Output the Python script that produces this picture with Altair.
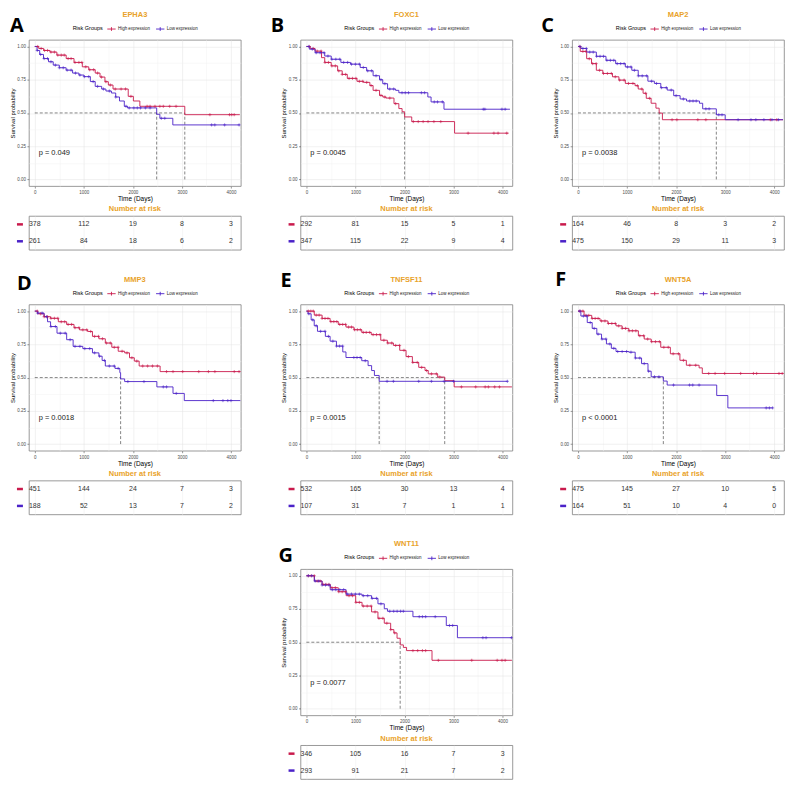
import bisect
import altair as alt
import pandas as pd

RED = "#C91A4C"
BLUE = "#4B22C8"
ORANGE = "#E9A229"
GROUPS = ["High expression", "Low expression"]
RISK_TIMES = [0, 1000, 2000, 3000, 4000]
X_TICKS = [0, 500, 1000, 1500, 2000, 2500, 3000, 3500, 4000]
Y_TICKS = [0, 0.125, 0.25, 0.375, 0.5, 0.625, 0.75, 0.875, 1.0]

# ---------------- A: EPHA3 ----------------
A_HIGH_T = [0, 80, 180, 310, 450, 640, 800, 969, 1100, 1232, 1330, 1430, 1500, 1595, 1905, 2010, 2142, 3058, 4180]
A_HIGH_S = [1.0, 0.985, 0.97, 0.958, 0.935, 0.909, 0.88, 0.847, 0.825, 0.80, 0.77, 0.735, 0.71, 0.68, 0.625, 0.59, 0.55, 0.487, 0.487]
A_HIGH_C = [60, 130, 200, 260, 330, 400, 470, 540, 600, 680, 740, 820, 900, 960, 1040, 1120, 1200, 1280, 1360, 1450, 1540, 1640, 1760, 1850, 1960, 2290, 2350, 2450, 2550, 2620, 2750, 2880, 3570, 3970, 4015, 4065]
A_LOW_T = [0, 46, 100, 178, 280, 376, 500, 639, 771, 900, 1002, 1133, 1232, 1364, 1450, 1562, 1650, 1727, 1825, 1891, 2485, 2550, 2814, 4180]
A_LOW_S = [1.0, 0.97, 0.94, 0.909, 0.885, 0.86, 0.84, 0.822, 0.80, 0.785, 0.773, 0.736, 0.70, 0.68, 0.665, 0.65, 0.62, 0.59, 0.55, 0.538, 0.49, 0.46, 0.41, 0.41]
A_LOW_C = [50, 120, 190, 260, 330, 420, 500, 580, 660, 740, 830, 920, 1010, 1100, 1190, 1280, 1400, 1520, 1650, 1860, 1925, 2020, 2090, 2155, 2255, 2350, 2580, 2650, 3605, 3670, 3870, 4165]
A_RISK_HIGH = [378, 112, 19, 8, 3]
A_RISK_LOW = [261, 84, 18, 6, 2]
A_MED = [2485, 3058]

# ---------------- B: FOXC1 ----------------
B_HIGH_T = [0, 80, 177, 309, 374, 506, 637, 730, 834, 1031, 1163, 1294, 1360, 1491, 1557, 1622, 1786, 1885, 1951, 2003, 2148, 3021, 4120]
B_HIGH_S = [1.0, 0.985, 0.965, 0.916, 0.88, 0.854, 0.817, 0.79, 0.76, 0.738, 0.73, 0.706, 0.67, 0.632, 0.62, 0.612, 0.57, 0.533, 0.509, 0.47, 0.435, 0.348, 0.348]
B_HIGH_C = [60, 140, 220, 300, 380, 450, 520, 590, 660, 730, 800, 870, 940, 1010, 1080, 1150, 1230, 1320, 1420, 1520, 1600, 1700, 1820, 2180, 2280, 2380, 2480, 2600, 2740, 3297, 3823, 3908, 4085]
B_LOW_T = [0, 60, 177, 374, 506, 703, 900, 1097, 1228, 1360, 1491, 1557, 1655, 1819, 1885, 2476, 2542, 2805, 4150]
B_LOW_S = [1.0, 0.98, 0.953, 0.928, 0.904, 0.88, 0.867, 0.842, 0.817, 0.78, 0.75, 0.72, 0.68, 0.67, 0.652, 0.62, 0.583, 0.528, 0.528]
B_LOW_C = [50, 120, 200, 280, 360, 440, 520, 600, 680, 760, 840, 920, 1000, 1080, 1160, 1250, 1330, 1420, 1520, 1600, 1700, 1780, 1950, 2016, 2082, 2345, 2410, 2607, 2673, 2772, 3606, 3639, 3987, 4052]
B_RISK_HIGH = [292, 81, 15, 5, 1]
B_RISK_LOW = [347, 115, 22, 9, 4]
B_MED = [2003]

# ---------------- C: MAP2 ----------------
C_HIGH_T = [0, 46, 177, 276, 374, 506, 703, 834, 965, 1163, 1228, 1327, 1392, 1491, 1589, 1655, 1721, 4180]
C_HIGH_S = [1.0, 0.963, 0.908, 0.871, 0.821, 0.797, 0.772, 0.747, 0.722, 0.705, 0.68, 0.648, 0.61, 0.573, 0.536, 0.499, 0.449, 0.449]
C_HIGH_C = [40, 100, 160, 230, 300, 370, 440, 520, 600, 680, 760, 850, 940, 1030, 1120, 1210, 1300, 1380, 1460, 1918, 2016, 2443, 2607, 3921, 4052]
C_LOW_T = [0, 60, 177, 374, 571, 768, 965, 1097, 1228, 1425, 1557, 1688, 1819, 1951, 2082, 2213, 2476, 2542, 2820, 3001, 4180]
C_LOW_S = [1.0, 0.985, 0.958, 0.926, 0.896, 0.871, 0.846, 0.821, 0.779, 0.739, 0.722, 0.69, 0.672, 0.63, 0.605, 0.59, 0.573, 0.531, 0.486, 0.449, 0.449]
C_LOW_C = [40, 100, 170, 240, 310, 380, 450, 520, 590, 660, 730, 800, 870, 940, 1010, 1080, 1150, 1230, 1310, 1400, 1500, 1600, 1700, 1800, 1900, 2000, 2148, 2279, 2345, 2410, 2607, 2673, 2870, 2936, 3264, 3527, 3626, 3790, 3954, 4085]
C_RISK_HIGH = [164, 46, 8, 3, 2]
C_RISK_LOW = [475, 150, 29, 11, 3]
C_MED = [1655, 2820]

# ---------------- D: MMP3 ----------------
D_HIGH_T = [0, 60, 190, 322, 480, 650, 800, 913, 1077, 1176, 1307, 1438, 1570, 1701, 1832, 1931, 2029, 2128, 2555, 4190]
D_HIGH_S = [1.0, 0.98, 0.958, 0.946, 0.92, 0.90, 0.875, 0.859, 0.847, 0.81, 0.792, 0.76, 0.728, 0.698, 0.686, 0.649, 0.624, 0.587, 0.545, 0.545]
D_HIGH_C = [50, 120, 190, 260, 330, 400, 470, 540, 610, 680, 750, 820, 900, 980, 1060, 1140, 1220, 1300, 1380, 1460, 1540, 1620, 1700, 1780, 1880, 1980, 2080, 2200, 2300, 2400, 2500, 2686, 2818, 3015, 3343, 3540, 3672, 4066, 4164]
D_LOW_T = [0, 60, 190, 260, 322, 453, 650, 782, 979, 1176, 1307, 1373, 1438, 1635, 1734, 1750, 1832, 2489, 2818, 3048, 4190]
D_LOW_S = [1.0, 0.985, 0.958, 0.92, 0.884, 0.834, 0.785, 0.735, 0.718, 0.686, 0.661, 0.629, 0.587, 0.569, 0.537, 0.49, 0.47, 0.43, 0.381, 0.327, 0.327]
D_LOW_C = [60, 150, 240, 330, 420, 520, 620, 720, 820, 920, 1020, 1120, 1220, 1320, 1420, 1520, 1620, 1700, 1898, 2226, 2620, 2686, 2884, 3639, 3836, 3935, 4000]
D_RISK_HIGH = [451, 144, 24, 7, 3]
D_RISK_LOW = [188, 52, 13, 7, 2]
D_MED = [1750]

# ---------------- E: TNFSF11 ----------------
E_HIGH_T = [0, 161, 320, 484, 650, 807, 970, 1129, 1323, 1516, 1650, 1774, 1903, 2032, 2161, 2290, 2419, 2484, 2677, 2820, 3013, 4190]
E_HIGH_S = [1.0, 0.97, 0.945, 0.921, 0.9, 0.88, 0.86, 0.84, 0.823, 0.781, 0.76, 0.742, 0.705, 0.658, 0.614, 0.577, 0.553, 0.528, 0.504, 0.477, 0.43, 0.43]
E_HIGH_C = [40, 90, 140, 200, 260, 320, 380, 440, 500, 560, 620, 680, 740, 800, 860, 920, 980, 1040, 1100, 1160, 1220, 1290, 1360, 1430, 1500, 1580, 1660, 1740, 1820, 1900, 1990, 2080, 2170, 2260, 2350, 2450, 2550, 2650, 2720, 3161, 3452, 3645, 3710, 3839, 3936]
E_LOW_T = [0, 32, 97, 160, 226, 387, 484, 613, 742, 807, 1129, 1258, 1330, 1387, 1484, 4100]
E_LOW_S = [1.0, 0.98, 0.934, 0.89, 0.848, 0.81, 0.774, 0.737, 0.693, 0.651, 0.627, 0.59, 0.553, 0.516, 0.472, 0.472]
E_LOW_C = [50, 130, 200, 290, 380, 450, 540, 613, 677, 740, 968, 1032, 1097, 1200, 1645, 1774, 2290, 2549, 2807, 3000, 4097]
E_RISK_HIGH = [532, 165, 30, 13, 4]
E_RISK_LOW = [107, 31, 7, 1, 1]
E_MED = [1484, 2820]

# ---------------- F: WNT5A ----------------
F_HIGH_T = [0, 124, 280, 450, 610, 775, 900, 1036, 1231, 1350, 1492, 1687, 1883, 2078, 2209, 2469, 2534, 4190]
F_HIGH_S = [1.0, 0.968, 0.945, 0.926, 0.907, 0.889, 0.87, 0.852, 0.815, 0.79, 0.77, 0.728, 0.679, 0.63, 0.593, 0.573, 0.531, 0.531]
F_HIGH_C = [40, 100, 160, 220, 290, 350, 410, 480, 550, 620, 690, 760, 830, 900, 970, 1040, 1110, 1180, 1260, 1340, 1420, 1500, 1580, 1660, 1750, 1840, 1940, 2050, 2150, 2280, 2400, 2665, 2795, 2990, 3316, 3577, 3642, 4098, 4163]
F_LOW_T = [0, 59, 189, 290, 384, 480, 580, 680, 775, 1036, 1166, 1296, 1427, 1492, 1740, 1818, 2828, 3055, 3970]
F_LOW_S = [1.0, 0.963, 0.914, 0.87, 0.827, 0.79, 0.753, 0.72, 0.696, 0.691, 0.647, 0.605, 0.548, 0.506, 0.474, 0.444, 0.365, 0.272, 0.272]
F_LOW_C = [40, 110, 180, 250, 330, 410, 490, 570, 650, 730, 810, 900, 990, 1080, 1170, 1260, 1350, 1440, 1560, 1650, 1948, 2274, 2339, 2469, 3837, 3902, 3968]
F_RISK_HIGH = [475, 145, 27, 10, 5]
F_RISK_LOW = [164, 51, 10, 4, 0]
F_MED = [1740]

# ---------------- G: WNT11 ----------------
G_HIGH_T = [0, 162, 320, 486, 650, 810, 1005, 1135, 1329, 1459, 1588, 1718, 1783, 1848, 1912, 1977, 2042, 2561, 4190]
G_HIGH_S = [1.0, 0.96, 0.935, 0.91, 0.88, 0.85, 0.80, 0.772, 0.728, 0.68, 0.643, 0.595, 0.57, 0.53, 0.48, 0.461, 0.437, 0.364, 0.364]
G_HIGH_C = [40, 100, 160, 220, 280, 340, 400, 460, 520, 590, 660, 730, 800, 870, 940, 1010, 1080, 1160, 1240, 1320, 1400, 1480, 1560, 1640, 1720, 1800, 2172, 2269, 2366, 2431, 2690, 3371, 3890, 3987, 4052]
G_LOW_T = [0, 162, 320, 486, 810, 1135, 1329, 1459, 1588, 1653, 2172, 2852, 3079, 4190]
G_LOW_S = [1.0, 0.96, 0.93, 0.895, 0.862, 0.85, 0.83, 0.789, 0.752, 0.733, 0.692, 0.626, 0.534, 0.534]
G_LOW_C = [40, 110, 180, 250, 320, 390, 460, 530, 600, 680, 760, 840, 920, 1000, 1080, 1160, 1250, 1340, 1430, 1520, 1700, 1780, 1850, 1920, 1977, 2301, 2366, 2431, 2626, 2917, 2982, 3598, 3663, 4181]
G_RISK_HIGH = [346, 105, 16, 7, 3]
G_RISK_LOW = [293, 91, 21, 7, 2]
G_MED = [1912]

GENES = {"A": "EPHA3", "B": "FOXC1", "C": "MAP2", "D": "MMP3", "E": "TNFSF11", "F": "WNT5A", "G": "WNT11"}
PVALS = {"A": "p = 0.049", "B": "p = 0.0045", "C": "p = 0.0038", "D": "p = 0.0018",
         "E": "p = 0.0015", "F": "p < 0.0001", "G": "p = 0.0077"}
P_POS = (80, 0.195)

CURVES = {
    "A": ((A_HIGH_T, A_HIGH_S, A_HIGH_C), (A_LOW_T, A_LOW_S, A_LOW_C), (A_RISK_HIGH, A_RISK_LOW), A_MED),
    "B": ((B_HIGH_T, B_HIGH_S, B_HIGH_C), (B_LOW_T, B_LOW_S, B_LOW_C), (B_RISK_HIGH, B_RISK_LOW), B_MED),
    "C": ((C_HIGH_T, C_HIGH_S, C_HIGH_C), (C_LOW_T, C_LOW_S, C_LOW_C), (C_RISK_HIGH, C_RISK_LOW), C_MED),
    "D": ((D_HIGH_T, D_HIGH_S, D_HIGH_C), (D_LOW_T, D_LOW_S, D_LOW_C), (D_RISK_HIGH, D_RISK_LOW), D_MED),
    "E": ((E_HIGH_T, E_HIGH_S, E_HIGH_C), (E_LOW_T, E_LOW_S, E_LOW_C), (E_RISK_HIGH, E_RISK_LOW), E_MED),
    "F": ((F_HIGH_T, F_HIGH_S, F_HIGH_C), (F_LOW_T, F_LOW_S, F_LOW_C), (F_RISK_HIGH, F_RISK_LOW), F_MED),
    "G": ((G_HIGH_T, G_HIGH_S, G_HIGH_C), (G_LOW_T, G_LOW_S, G_LOW_C), (G_RISK_HIGH, G_RISK_LOW), G_MED),
}

# panel-letter placement relative to the plot's top-left corner
LETTER_POS = {"A": (-19, -8), "B": (-30, -8), "C": (-31, -8), "D": (-12, -15),
              "E": (-20, -18), "F": (-17, -19), "G": (-22, -7)}

W, H, TH = 213, 147, 34
GAP_KM_TABLE, GAP_ROWS, SP = 30, 55, 5
BORDER = "#7f7f7f"
PLUS = "M-1,0L1,0M0,-1L0,1"
LEG_SYMBOL = "M-1,0L1,0M0,-0.45L0,0.45"

XS = alt.Scale(domain=[-120, 4200], nice=False, zero=False)
YS = alt.Scale(domain=[-0.05, 1.05], nice=False, zero=False)
CS = alt.Scale(domain=GROUPS, range=[RED, BLUE])

XTEST = "datum.value % 1000 !== 0"
YTEST = "abs(datum.value * 4 - round(datum.value * 4)) > 0.01"


def cond(test, minor, major):
    return {"condition": {"test": test, "value": minor}, "value": major}


X_AXIS = alt.Axis(title="Time (Days)", values=X_TICKS, format="d",
                  labelExpr="datum.value % 1000 === 0 ? datum.label : ''",
                  tickOpacity=cond(XTEST, 0, 1),
                  gridColor=cond(XTEST, "#f3f3f3", "#e3e3e3"), gridWidth=0.5)
Y_AXIS = alt.Axis(title="Survival probability", values=Y_TICKS, format=".2f",
                  labelExpr="abs(datum.value * 4 - round(datum.value * 4)) > 0.01 ? '' : datum.label",
                  tickOpacity=cond(YTEST, 0, 1),
                  gridColor=cond(YTEST, "#f3f3f3", "#e3e3e3"), gridWidth=0.5,
                  titleFontSize=6)

LEGEND = alt.Legend(orient="none", legendX=44, legendY=-16, direction="horizontal",
                    title="Risk Groups", titleOrient="left", titleFontSize=5.5,
                    titleFontWeight="normal", titleColor="#000", titlePadding=3,
                    labelFontSize=4.5, labelColor="#222", labelOffset=1.5,
                    symbolType=LEG_SYMBOL, symbolSize=70, symbolStrokeWidth=0.9,
                    columnPadding=4, padding=0)

DUMMY = pd.DataFrame({"a": [0]})


def km_chart(key):
    high, low, _, med = CURVES[key]
    rows, cens = [], []
    for g, (ts, ss, cs) in zip(GROUPS, (high, low)):
        for t, s in zip(ts, ss):
            rows.append({"t": t, "s": s, "group": g})
        for c in cs:
            cens.append({"t": c, "s": ss[bisect.bisect_right(ts, c) - 1], "group": g})
    curve = pd.DataFrame(rows)
    cdf = pd.DataFrame(cens)
    x = alt.X("t:Q", scale=XS, axis=X_AXIS)
    y = alt.Y("s:Q", scale=YS, axis=Y_AXIS)
    color = alt.Color("group:N", scale=CS, legend=LEGEND)

    hline = alt.Chart(pd.DataFrame({"t": [0], "t2": [max(med)], "s": [0.5]})).mark_rule(
        strokeDash=[3, 2], color="#333", strokeWidth=0.6).encode(x=x, x2="t2:Q", y=y)
    vline = alt.Chart(pd.DataFrame({"t": med, "s": [0.0] * len(med), "s2": [0.5] * len(med)})).mark_rule(
        strokeDash=[3, 2], color="#333", strokeWidth=0.6).encode(x=x, y=y, y2="s2:Q")
    line = alt.Chart(curve).mark_line(interpolate="step-after", strokeWidth=0.9).encode(
        x=x, y=y, color=color)
    pts = alt.Chart(cdf).mark_point(shape=PLUS, filled=False, size=10, strokeWidth=0.6,
                                    opacity=1).encode(x=x, y=y, color=color)
    ptxt = alt.Chart(pd.DataFrame({"t": [P_POS[0]], "s": [P_POS[1]], "label": [PVALS[key]]})).mark_text(
        align="left", baseline="middle", fontSize=7.5, color="#1a1a1a").encode(x=x, y=y, text="label:N")
    title = alt.Chart(DUMMY).mark_text(fontSize=7.5, fontWeight="bold", color=ORANGE,
                                       baseline="middle").encode(
        x=alt.value(W / 2), y=alt.value(-25), text=alt.value(GENES[key]))
    dx, dy = LETTER_POS[key]
    letter = alt.Chart(DUMMY).mark_text(font="Open Sans", fontSize=20, fontWeight="bold",
                                        align="left", baseline="alphabetic", color="#000").encode(
        x=alt.value(dx), y=alt.value(dy), text=alt.value(key))
    return alt.layer(hline, vline, line, pts, ptxt, title, letter).properties(
        width=W, height=H, view=alt.ViewBackground(stroke=BORDER, strokeWidth=0.8))


def risk_chart(key):
    _, _, (rh, rl), _ = CURVES[key]
    rows = []
    for g, vals in zip(GROUPS, (rh, rl)):
        for t, n in zip(RISK_TIMES, vals):
            rows.append({"t": t, "group": g, "n": n})
    df = pd.DataFrame(rows)
    x = alt.X("t:Q", scale=XS, axis=alt.Axis(values=RISK_TIMES, labels=False, ticks=False,
                                             domain=False, title=None, grid=True,
                                             gridColor="#ececec", gridWidth=0.5))
    y = alt.Y("group:N", scale=alt.Scale(domain=GROUPS, paddingInner=0, paddingOuter=0),
              axis=None, bandPosition=0.5)
    txt = alt.Chart(df).mark_text(fontSize=7, color="#333").encode(x=x, y=y, text="n:Q")
    dash = alt.Chart(pd.DataFrame({"group": GROUPS})).mark_rule(strokeWidth=2.5).encode(
        x=alt.value(-12), x2=alt.value(-6), y=y,
        color=alt.Color("group:N", scale=CS, legend=None))
    return alt.layer(dash, txt).properties(
        width=W, height=TH,
        title=alt.Title("Number at risk", color=ORANGE, fontSize=7.5, fontWeight="bold", offset=3),
        view=alt.ViewBackground(stroke=BORDER, strokeWidth=0.8))


def spacer(h):
    return alt.Chart(DUMMY).mark_point(opacity=0).encode(
        x=alt.value(0), y=alt.value(0)).properties(
        width=W, height=h, view=alt.ViewBackground(stroke="transparent"))


GRID = [["A", "B", "C"], ["D", "E", "F"], [None, "G", None]]
cells = []
for r, keys in enumerate(GRID):
    cells += [km_chart(k) if k else spacer(H) for k in keys]
    cells += [spacer(GAP_KM_TABLE - 2 * SP) for _ in keys]
    cells += [risk_chart(k) if k else spacer(TH) for k in keys]
    if r < len(GRID) - 1:
        cells += [spacer(GAP_ROWS - 2 * SP) for _ in keys]

chart = alt.concat(*cells, columns=3, spacing={"row": SP, "column": 60}, bounds="flush").resolve_scale(
    color="independent").resolve_legend(color="independent").properties(
    padding=0, background="white"
).configure(font="Liberation Sans").configure_axis(
    labelFont="Liberation Sans", titleFont="Liberation Sans", labelFontSize=4.5,
    labelColor="#4d4d4d", titleFontSize=6.5, titleFontWeight="normal", titleColor="#000",
    tickSize=2, tickColor="#333", tickWidth=0.5, domain=False, labelPadding=1.5, titlePadding=1.5
).configure_text(font="Liberation Sans").configure_legend(
    labelFont="Liberation Sans", titleFont="Liberation Sans"
).configure_title(font="Liberation Sans")

chart.save("out.html", embed_options={"renderer": "svg", "actions": False})
